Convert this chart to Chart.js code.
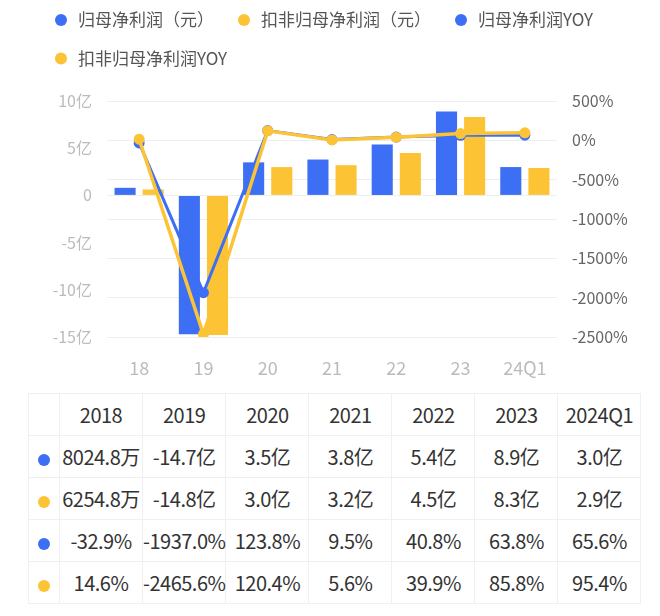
<!DOCTYPE html>
<html>
<head>
<meta charset="utf-8">
<script src="https://cdn.jsdelivr.net/npm/chart.js@4"></script>
<style>
  html, body { margin: 0; padding: 0; background: #fff; width: 660px; height: 616px; overflow: hidden; }
  body { font-family: "Noto Sans CJK SC", "Noto Sans", sans-serif; position: relative; }
  #wrap { position: absolute; left: 0; top: -10px; width: 660px; height: 395px; }
  #tbl { position: absolute; left: 28px; top: 393px; border-collapse: collapse; color: #333; font-size: 20px; font-weight: 400; letter-spacing: -0.5px; }
  #tbl td { border: 1px solid #f0f0f0; text-align: center; white-space: nowrap; padding: 0; height: 41px; width: 82px; }
  #tbl td.dotcell { width: 30px; }
  .dot { display: inline-block; width: 12px; height: 12px; border-radius: 50%; vertical-align: middle; }
</style>
</head>
<body>
<div id="wrap"><canvas id="chart"></canvas></div>
<table id="tbl"></table>
<script>
const years = ["2018", "2019", "2020", "2021", "2022", "2023", "2024Q1"];
const xLabels = ["18", "19", "20", "21", "22", "23", "24Q1"];
// 亿元
const netProfit = [0.80248, -14.7, 3.5, 3.8, 5.4, 8.9, 3.0];
const deductedProfit = [0.62548, -14.8, 3.0, 3.2, 4.5, 8.3, 2.9];
// %
const netProfitYoy = [-32.9, -1937.0, 123.8, 9.5, 40.8, 63.8, 65.6];
const deductedYoy = [14.6, -2465.6, 120.4, 5.6, 39.9, 85.8, 95.4];

const seriesNames = ["归母净利润（元）", "扣非归母净利润（元）", "归母净利润YOY", "扣非归母净利润YOY"];
const blue = "#3d6ff5";
const yellow = "#fcc435";

function fmtMoney(v) {
  return Math.abs(v) < 1 ? (v * 10000).toFixed(1) + "万" : v.toFixed(1) + "亿";
}
function fmtPct(v) {
  return v.toFixed(1) + "%";
}

// table under the chart
function renderTable() {
  const tbl = document.getElementById("tbl");
  const rows = [
    { color: blue, values: netProfit.map(fmtMoney) },
    { color: yellow, values: deductedProfit.map(fmtMoney) },
    { color: blue, values: netProfitYoy.map(fmtPct) },
    { color: yellow, values: deductedYoy.map(fmtPct) }
  ];
  let html = `<tr><td class="dotcell"></td>${years.map(y => `<td>${y}</td>`).join("")}</tr>`;
  rows.forEach(r => {
    html += `<tr><td class="dotcell"><span class="dot" style="background:${r.color}"></span></td>${r.values.map(v => `<td>${v}</td>`).join("")}</tr>`;
  });
  tbl.innerHTML = html;
}
renderTable();

// extra space between legend and plot
const legendMargin = {
  id: "legendMargin",
  beforeInit(chart) {
    const origFit = chart.legend.fit;
    chart.legend.fit = function () {
      origFit.bind(chart.legend)();
      this.height += 24;
    };
  }
};

const ctx = document.getElementById("chart").getContext("2d");
new Chart(ctx, {
  data: {
    labels: xLabels,
    datasets: [
      { type: "bar", label: seriesNames[0], data: netProfit, backgroundColor: blue, yAxisID: "y", order: 3, pointStyle: "circle" },
      { type: "bar", label: seriesNames[1], data: deductedProfit, backgroundColor: yellow, yAxisID: "y", order: 3, pointStyle: "circle" },
      {
        type: "line", label: seriesNames[2], data: netProfitYoy, yAxisID: "y1", order: 2,
        borderColor: blue, backgroundColor: blue, borderWidth: 3, pointRadius: 5.5, pointBorderWidth: 0, tension: 0
      },
      {
        type: "line", label: seriesNames[3], data: deductedYoy, yAxisID: "y1", order: 1,
        borderColor: yellow, backgroundColor: yellow, borderWidth: 3.5, pointRadius: 5.5, pointBorderWidth: 0, tension: 0
      }
    ]
  },
  plugins: [legendMargin],
  options: {
    responsive: true,
    maintainAspectRatio: false,
    animation: false,
    layout: { padding: { left: 31, right: 0, top: 0, bottom: 0 } },
    datasets: { bar: { barPercentage: 0.75, categoryPercentage: 0.875 } },
    plugins: {
      tooltip: { enabled: false },
      legend: {
        position: "top",
        align: "start",
        labels: {
          usePointStyle: true,
          boxWidth: 17,
          boxHeight: 8.5,
          padding: 21.5,
          color: "#555",
          font: { size: 17, family: "'Noto Sans CJK SC', sans-serif" },
          sort: (a, b) => a.datasetIndex - b.datasetIndex,
          generateLabels: (chart) =>
            Chart.defaults.plugins.legend.labels.generateLabels(chart).map(l => ({ ...l, lineWidth: 0, pointStyle: "circle" }))
        }
      }
    },
    scales: {
      x: {
        grid: { display: false },
        border: { display: false },
        ticks: { color: "#bbb", padding: 12, font: { size: 18, family: "'Noto Sans CJK SC', sans-serif" } },
        afterFit: (s) => { s.height = 48; }
      },
      y: {
        position: "left",
        min: -15,
        max: 10,
        border: { display: false },
        grid: {
          drawTicks: false,
          color: (c) => (c.tick && c.tick.value === 0 ? "#eeeeee" : "rgba(0,0,0,0)")
        },
        ticks: {
          stepSize: 5,
          padding: 15,
          color: "#bbb",
          font: { size: 16, family: "'Noto Sans CJK SC', sans-serif" },
          callback: (v) => (v === 0 ? "0" : v + "亿")
        },
        afterFit: (s) => { s.width = 76; }
      },
      y1: {
        position: "right",
        min: -2500,
        max: 500,
        border: { display: false },
        grid: { drawTicks: false, color: "#eeeeee" },
        ticks: {
          stepSize: 500,
          padding: 15,
          color: "#666",
          font: { size: 16, family: "'Noto Sans CJK SC', sans-serif" },
          callback: (v) => v + "%"
        },
        afterFit: (s) => { s.width = 103; }
      }
    }
  }
});
</script>
</body>
</html>
